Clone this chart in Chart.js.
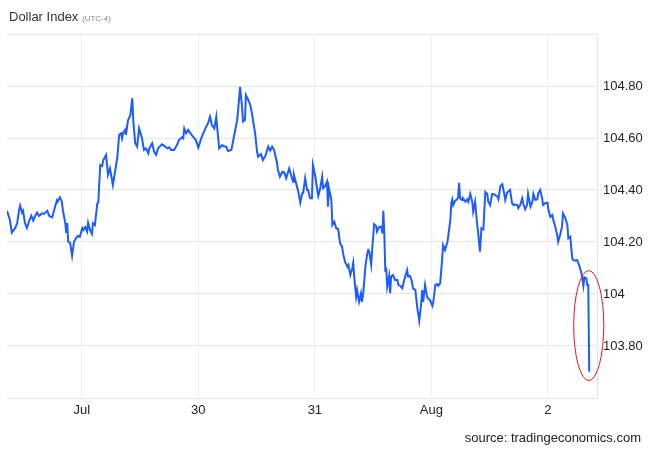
<!DOCTYPE html>
<html>
<head>
<meta charset="utf-8">
<script src="https://cdn.jsdelivr.net/npm/chart.js@4/dist/chart.umd.min.js"></script>
<style>
  html, body { margin: 0; padding: 0; background: #fff; }
  #wrap { position: relative; width: 650px; height: 450px; overflow: hidden; }
  canvas { position: absolute; left: 0; top: 0; }
  .title { position: absolute; left: 9px; top: 9px; font-family: "Liberation Sans", Arial, sans-serif; font-size: 13px; line-height: 15px; color: #333; white-space: nowrap; }
  .title small { font-size: 8px; color: #888; }
  .source { position: absolute; right: 9px; top: 430px; font-family: "Liberation Sans", Arial, sans-serif; font-size: 13px; line-height: 15px; color: #222; white-space: nowrap; }
</style>
</head>
<body>
<div id="wrap">
  <canvas id="c" width="650" height="450"></canvas>
  <div class="title">Dollar Index <small>(UTC-4)</small></div>
  <div class="source">source: tradingeconomics.com</div>
</div>
<script>
// Hours relative to the first labelled day boundary ("Jul" gridline)
const hours = [
  -15.4,-14.8,-14.4,-13.7,-13.3,-12.9,-12.7,-12.3,-12.1,-11.7,-11.3,-10.9,-10.4,-10.0,-9.6,-9.2,-8.8,-8.2,-7.8,-7.1,
  -6.7,-6.1,-5.5,-5.1,-4.9,-4.5,-4.1,-3.9,-3.4,-3.2,-3.0,-2.8,-2.4,-2.0,-1.6,-1.2,-0.8,-0.4,0.1,0.3,
  0.7,1.1,1.3,1.7,2.1,2.3,2.7,3.2,3.4,3.8,4.2,4.4,5.0,5.4,5.8,6.4,6.9,7.3,7.7,8.1,
  8.3,8.5,8.9,9.1,9.5,10.0,10.4,10.6,11.0,11.4,11.8,12.4,12.8,13.2,13.7,13.9,14.5,14.9,15.3,15.7,
  16.5,17.2,17.6,18.0,18.4,19.0,19.6,20.0,20.7,20.9,21.1,21.5,21.9,22.5,22.9,23.5,24.0,24.6,25.0,25.6,
  26.0,26.4,26.8,27.3,27.7,27.9,28.3,28.9,29.3,29.7,30.1,30.8,31.2,32.0,32.2,32.6,33.0,33.2,33.6,33.8,
  34.3,34.7,35.1,35.3,35.7,36.1,36.3,36.9,37.3,37.8,38.4,38.8,39.2,39.6,40.2,40.4,40.8,41.3,41.7,42.1,
  42.7,43.1,43.5,43.7,44.4,44.6,45.0,45.4,45.6,46.0,46.4,46.6,47.0,47.4,47.6,48.1,48.5,48.7,49.1,49.5,
  49.7,50.1,50.5,50.7,50.9,51.4,51.6,52.0,52.4,52.8,53.2,53.6,53.8,54.2,54.7,54.9,55.3,55.7,55.9,56.1,
  56.5,56.7,57.1,57.5,57.7,58.0,58.4,58.8,59.0,59.2,59.6,59.8,60.2,60.6,60.8,61.2,61.7,61.9,62.1,62.3,
  62.5,62.7,62.9,63.3,63.5,63.7,64.1,64.5,65.0,65.2,65.6,66.0,66.4,67.0,67.2,67.6,68.0,68.2,68.7,69.1,
  69.5,69.9,70.1,70.3,70.7,71.1,71.3,71.7,72.2,72.4,72.8,73.2,73.4,73.8,74.2,74.4,74.8,75.3,75.5,75.9,
  76.1,76.3,76.5,76.9,77.3,77.5,77.7,77.9,78.3,78.5,79.0,79.4,79.6,80.0,80.4,80.6,81.0,81.4,81.6,82.0,
  82.3,82.7,83.1,83.5,83.7,84.1,84.5,84.7,85.1,85.6,85.8,86.2,86.6,87.0,87.2,87.6,88.2,88.6,88.8,89.7,
  89.9,90.3,90.7,90.9,91.3,91.7,91.9,92.4,92.8,93.0,93.4,93.8,94.0,94.4,94.8,95.0,95.4,95.9,96.1,96.5,
  96.9,97.1,97.5,97.9,98.1,98.5,98.9,99.1,99.6,100.0,100.2,100.6,101.0,101.2,101.6,102.0,102.4,102.9,103.3,103.5,
  103.9,104.1,104.3,104.5
];
const dollarIndex = [
  104.320,104.285,104.236,104.254,104.273,104.323,104.340,104.313,104.320,104.273,104.254,104.278,104.301,104.282,104.300,104.313,104.300,104.310,104.308,104.320,
  104.300,104.295,104.336,104.362,104.359,104.372,104.355,104.323,104.273,104.235,104.273,104.201,104.197,104.147,104.201,104.214,104.224,104.220,104.253,104.246,
  104.257,104.240,104.274,104.246,104.231,104.272,104.265,104.349,104.351,104.496,104.492,104.513,104.535,104.458,104.483,104.419,104.477,104.522,104.612,104.618,
  104.599,104.618,104.631,104.612,104.667,104.688,104.753,104.669,104.580,104.567,104.637,104.599,104.554,104.560,104.541,104.560,104.580,104.547,104.535,104.560,
  104.576,104.567,104.560,104.564,104.554,104.554,104.573,104.592,104.603,104.599,104.637,104.618,104.631,104.615,104.605,104.592,104.563,104.599,104.618,104.643,
  104.657,104.682,104.650,104.637,104.682,104.637,104.560,104.573,104.567,104.567,104.550,104.554,104.592,104.669,104.708,104.797,104.720,104.663,104.669,104.765,
  104.746,104.727,104.688,104.663,104.618,104.547,104.528,104.538,104.515,104.531,104.567,104.551,104.567,104.554,104.505,104.477,104.451,104.470,104.467,104.445,
  104.483,104.458,104.432,104.458,104.407,104.393,104.351,104.387,104.390,104.445,104.400,104.400,104.368,104.368,104.496,104.451,104.400,104.377,104.407,104.451,
  104.407,104.415,104.432,104.336,104.407,104.362,104.265,104.278,104.253,104.249,104.195,104.182,104.157,104.124,104.105,104.112,104.073,104.099,104.120,104.067,
  103.990,104.015,103.970,104.003,103.970,104.009,104.105,104.157,104.169,104.163,104.112,104.169,104.269,104.262,104.240,104.257,104.259,104.233,104.320,104.233,
  104.092,104.095,104.028,104.069,104.003,104.067,104.073,104.054,104.054,104.035,104.031,104.022,104.054,104.092,104.067,104.069,104.047,104.022,104.015,103.945,
  103.897,103.964,104.015,103.970,104.035,103.990,103.983,103.977,103.954,103.970,104.035,104.038,104.031,104.041,104.131,104.188,104.169,104.201,104.227,104.285,
  104.349,104.364,104.342,104.359,104.364,104.374,104.428,104.368,104.362,104.368,104.355,104.364,104.355,104.385,104.355,104.317,104.355,104.272,104.240,104.163,
  104.253,104.249,104.393,104.385,104.355,104.342,104.385,104.385,104.381,104.374,104.364,104.415,104.423,104.385,104.362,104.390,104.400,104.349,104.345,104.342,
  104.330,104.342,104.368,104.349,104.326,104.342,104.385,104.336,104.355,104.385,104.362,104.364,104.387,104.400,104.368,104.342,104.349,104.351,104.323,104.297,
  104.304,104.285,104.259,104.227,104.201,104.227,104.259,104.310,104.291,104.265,104.214,104.220,104.137,104.131,104.128,104.131,104.112,104.080,104.031,104.064,
  104.060,104.035,104.035,103.701
];
const xTickHours = [0, 24, 48, 72, 96];
const xTickLabels = ['Jul', '30', '31', 'Aug', '2'];
const yTickValues = [103.6, 103.8, 104.0, 104.2, 104.4, 104.6, 104.8, 105.0];
const yTickLabels = ['', '103.80', '104', '104.20', '104.40', '104.60', '104.80', ''];
const xRange = [-15.4, 106.1];
const yRange = [103.6, 105.0];
// highlighted region (red ellipse) in data units: hours and index values
const highlightHours = [101.3, 107.5];
const highlightValues = [103.667, 104.09];

const FONT = '"Liberation Sans", Arial, sans-serif';

const ellipsePlugin = {
  id: 'highlightEllipse',
  afterDatasetsDraw(chart) {
    const xs = chart.scales.x, ys = chart.scales.y;
    const x1 = xs.getPixelForValue(highlightHours[0]);
    const x2 = xs.getPixelForValue(highlightHours[1]);
    const y1 = ys.getPixelForValue(highlightValues[1]);
    const y2 = ys.getPixelForValue(highlightValues[0]);
    const ctx = chart.ctx;
    ctx.save();
    ctx.beginPath();
    ctx.ellipse((x1 + x2) / 2, (y1 + y2) / 2, Math.abs(x2 - x1) / 2, Math.abs(y2 - y1) / 2, 0, 0, Math.PI * 2);
    ctx.strokeStyle = '#e8141c';
    ctx.lineWidth = 1;
    ctx.stroke();
    ctx.restore();
  }
};

new Chart(document.getElementById('c'), {
  type: 'line',
  data: {
    datasets: [{
      data: hours.map((h, i) => ({ x: h, y: dollarIndex[i] })),
      borderColor: '#1d5cff',
      borderWidth: 2,
      pointRadius: 0,
      tension: 0,
      fill: false
    }]
  },
  options: {
    responsive: false,
    devicePixelRatio: 1,
    animation: false,
    layout: { padding: { left: 7, top: 34, right: 0, bottom: 0 } },
    plugins: { legend: { display: false }, tooltip: { enabled: false } },
    scales: {
      x: {
        type: 'linear',
        min: xRange[0],
        max: xRange[1],
        afterBuildTicks: (s) => { s.ticks = xTickHours.map(v => ({ value: v })); },
        afterFit: (s) => { s.height = 52; },
        ticks: {
          autoSkip: false,
          maxRotation: 0,
          padding: 5,
          color: '#222',
          font: { family: FONT, size: 13 },
          callback: (v, i) => xTickLabels[i]
        },
        grid: { color: '#f0f0f0', drawTicks: false, lineWidth: 1 },
        border: { display: true, color: '#e3e3e3' }
      },
      y: {
        type: 'linear',
        position: 'right',
        min: yRange[0],
        max: yRange[1],
        afterBuildTicks: (s) => { s.ticks = yTickValues.map(v => ({ value: v })); },
        afterFit: (s) => { s.width = 53; },
        ticks: {
          autoSkip: false,
          padding: 6,
          color: '#222',
          font: { family: FONT, size: 13 },
          callback: (v, i) => yTickLabels[i]
        },
        grid: { color: '#e6e6e6', drawTicks: false, lineWidth: 1 },
        border: { display: true, color: '#e6e6e6' }
      }
    }
  },
  plugins: [ellipsePlugin]
});
</script>
</body>
</html>
